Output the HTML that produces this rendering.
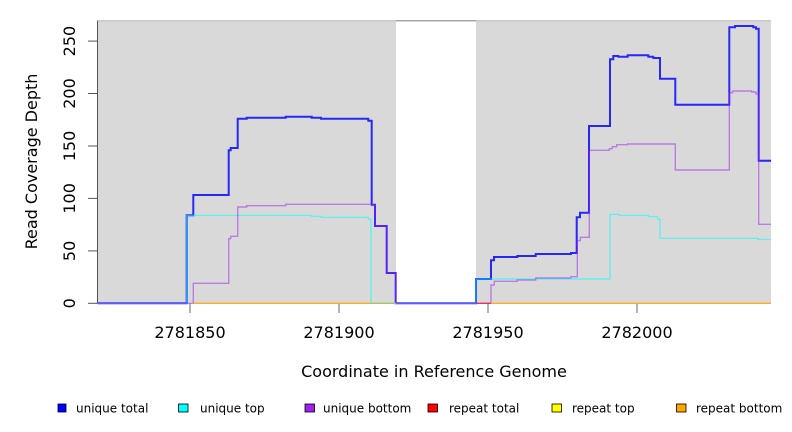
<!DOCTYPE html>
<html><head><meta charset="utf-8"><style>
html,body{margin:0;padding:0;background:#fff;}
svg{display:block;}
text{font-family:"DejaVu Sans","Liberation Sans",sans-serif;fill:#000;}
</style></head><body>
<svg width="792" height="432" viewBox="0 0 792 432" xmlns="http://www.w3.org/2000/svg">
<rect x="0" y="0" width="792" height="432" fill="#fff"/>
<!-- gray panels -->
<rect x="97.5" y="20.5" width="298.5" height="283" fill="#d9d9d9"/>
<rect x="476" y="20.5" width="295" height="283" fill="#d9d9d9"/>
<!-- top border -->
<line x1="97.5" y1="20.8" x2="396" y2="20.8" stroke="#b8b8b8" stroke-width="1"/>
<line x1="396" y1="20.8" x2="476" y2="20.8" stroke="#888" stroke-width="1.2"/>
<line x1="476" y1="20.8" x2="771" y2="20.8" stroke="#b8b8b8" stroke-width="1"/>
<!-- left axis -->
<line x1="97.5" y1="20.5" x2="97.5" y2="303.5" stroke="#555" stroke-width="1"/>
<!-- y ticks -->
<g stroke="#555" stroke-width="1">
<line x1="88" y1="303.3" x2="97.5" y2="303.3"/>
<line x1="88" y1="250.9" x2="97.5" y2="250.9"/>
<line x1="88" y1="198.4" x2="97.5" y2="198.4"/>
<line x1="88" y1="146" x2="97.5" y2="146"/>
<line x1="88" y1="93.5" x2="97.5" y2="93.5"/>
<line x1="88" y1="41.1" x2="97.5" y2="41.1"/>
</g>
<g font-size="16" text-anchor="middle">
<text transform="translate(75,303.3) rotate(-90)">0</text>
<text transform="translate(75,250.9) rotate(-90)">50</text>
<text transform="translate(75,198.4) rotate(-90)">100</text>
<text transform="translate(75,146) rotate(-90)">150</text>
<text transform="translate(75,93.5) rotate(-90)">200</text>
<text transform="translate(75,41.1) rotate(-90)">250</text>
</g>
<!-- x ticks -->
<g stroke="#808080" stroke-width="1.2">
<line x1="190" y1="303.5" x2="190" y2="313"/>
<line x1="339" y1="303.5" x2="339" y2="313"/>
<line x1="488" y1="303.5" x2="488" y2="313"/>
<line x1="637" y1="303.5" x2="637" y2="313"/>
</g>
<g font-size="16" text-anchor="middle">
<text x="190" y="338">2781850</text>
<text x="339" y="338">2781900</text>
<text x="488" y="338">2781950</text>
<text x="637" y="338">2782000</text>
</g>
<text font-size="16" text-anchor="middle" transform="translate(37,161.5) rotate(-90)">Read Coverage Depth</text>
<text font-size="16" text-anchor="middle" x="434" y="377">Coordinate in Reference Genome</text>

<!-- series -->
<path fill="none" stroke="#0000ff" stroke-opacity="0.82" stroke-width="2" d="M97.5,303.3 H186.7 V215.3 H193.3 V195 H228.7 V150.3 H230.7 V148 H237.7 V118.7 H246.7 V117.7 H285.7 V116.7 H311.7 V117.7 H321 V118.7 H368.3 V120.7 H371.7 V204.7 H375 V226 H386.7 V273 H395.7 V303.3 H476 V279 H491 V260.3 H494 V257 H517.3 V256 H535.7 V254 H571 V253 H576.7 V217.3 H580 V212.7 H589 V126 H610 V59.3 H613.3 V56 H618.3 V56.7 H627.7 V55.3 H648.3 V56.7 H653.3 V58 H660 V78.7 H675.3 V104.7 H729.3 V27.3 H735 V26 H753.3 V27.3 H756 V28.7 H758.7 V160.7 H771"/>
<path fill="none" stroke="#00ffff" stroke-opacity="0.62" stroke-width="1.2" d="M97.5,303.3 H186.7 V215.3 H311.7 V216.3 H321 V217.3 H368.3 V219.3 H371 V303.3 H476 V279 H610 V214.3 H619 V215.3 H648.3 V216.7 H657.7 V219.3 H660 V238.3 H757.7 V239.3 H771"/>
<path fill="none" stroke="#a020f0" stroke-opacity="0.5" stroke-width="1.4" d="M97.5,303.3 H193.3 V283.3 H228.7 V238.7 H230.7 V236.3 H237.7 V207 H246.7 V205.7 H285.7 V204.3 H371.7 V204.7 H375 V226 H386.7 V273 H395.7 V303.3 H491 V285 H494.3 V281.3 H517.3 V280 H535.7 V278 H571 V276.7 H577.3 V240.7 H580.3 V237.3 H589.3 V150.3 H609.3 V148.7 H612.3 V146.7 H616.7 V144.7 H627.7 V144 H675.3 V170 H729.3 V92.7 H732.7 V91 H751.7 V92 H756 V94 H758.7 V224.3 H771"/>
<line x1="193.3" y1="303.3" x2="396" y2="303.3" stroke="#ffa500" stroke-opacity="0.85" stroke-width="1.4"/>
<line x1="371" y1="303.3" x2="396" y2="303.3" stroke="#00ffff" stroke-opacity="0.35" stroke-width="1.2"/>
<line x1="476" y1="303.3" x2="491" y2="303.3" stroke="#ff0000" stroke-opacity="0.6" stroke-width="1.4"/>
<line x1="491" y1="303.3" x2="771" y2="303.3" stroke="#ffa500" stroke-opacity="0.85" stroke-width="1.4"/>

<!-- legend -->
<g stroke="#000" stroke-width="0.8">
<rect x="58" y="404" width="8" height="8" fill="#0000ff"/>
<rect x="178.5" y="404" width="9.5" height="8" fill="#00ffff"/>
<rect x="305" y="404" width="9.5" height="8" fill="#a020f0"/>
<rect x="428" y="404" width="9.5" height="8" fill="#ff0000"/>
<rect x="552" y="404" width="9.5" height="8" fill="#ffff00"/>
<rect x="676.5" y="404" width="9.5" height="8" fill="#ffa500"/>
</g>
<g font-size="12">
<text x="76" y="412.5">unique total</text>
<text x="200" y="412.5">unique top</text>
<text x="323" y="412.5">unique bottom</text>
<text x="449" y="412.5">repeat total</text>
<text x="572" y="412.5">repeat top</text>
<text x="696" y="412.5">repeat bottom</text>
</g>
</svg>
</body></html>
